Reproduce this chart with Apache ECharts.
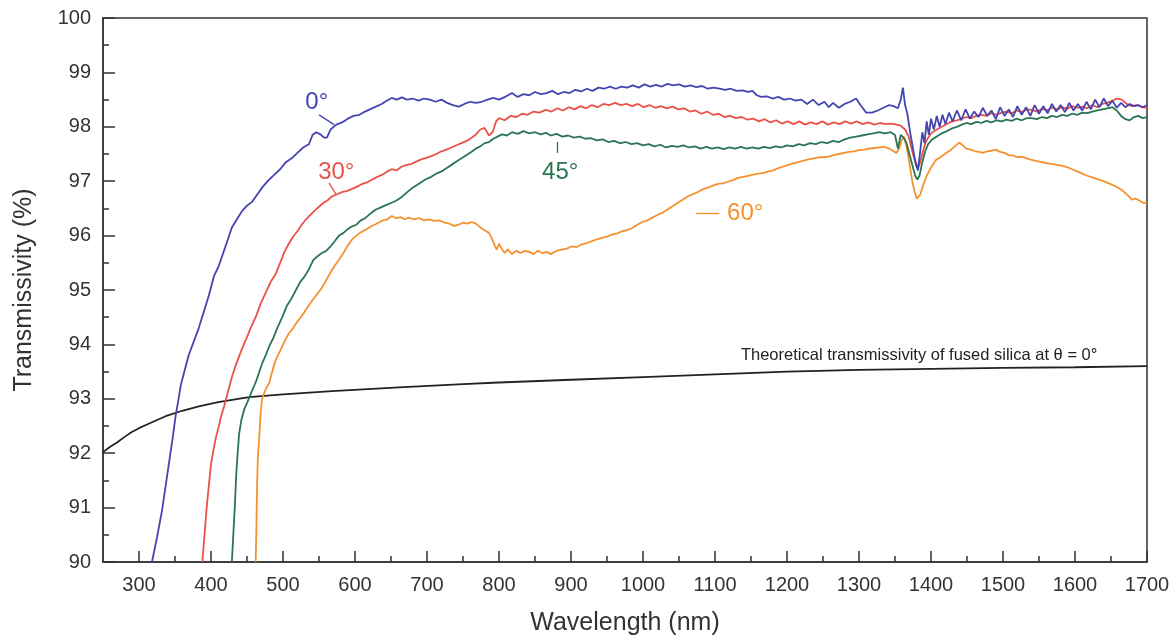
<!DOCTYPE html>
<html>
<head>
<meta charset="utf-8">
<script src="https://cdn.jsdelivr.net/npm/echarts@6/dist/echarts.min.js"></script>
<style>html,body{margin:0;padding:0;background:#fff}#c{width:1176px;height:641px}</style>
</head>
<body>
<div id="c"></div>
<script>
// ---------- data ----------
const xMajorTicks = [300,400,500,600,700,800,900,1000,1100,1200,1300,1400,1500,1600,1700];
const xMinorTicks = [350,450,550,650,750,850,950,1050,1150,1250,1350,1450,1550,1650];
const seriesNames = ['0°','30°','45°','60°'];

const theory = [[250,92.02],[260,92.12],[270,92.2],[280,92.3],[290,92.39],[300,92.46],[315,92.55],[337,92.68],[360,92.78],[383,92.86],[410,92.94],[453,93.03],[500,93.08],[568,93.14],[661,93.21],[750,93.27],[800,93.3],[900,93.35],[1000,93.4],[1100,93.45],[1200,93.5],[1300,93.53],[1400,93.55],[1500,93.57],[1600,93.58],[1700,93.6]];

const t0 = [[318,90.0],[325,90.45],[332,90.95],[337,91.4],[342,91.85],[347,92.3],[351,92.7],[355,93.0],[358,93.25],[363,93.5],[369,93.8],[376,94.05],[383,94.3],[390,94.6],[397,94.9],[404,95.25],[411,95.45],[418,95.72],[424,95.95],[429,96.15],[436,96.3],[443,96.45],[450,96.55],[457,96.62],[464,96.75],[472,96.9],[480,97.02],[488,97.12],[496,97.22],[504,97.35],[512,97.42],[520,97.52],[528,97.62],[536,97.68],[541,97.85],[546,97.9],[552,97.86],[557,97.8],[561,97.8],[566,97.95],[574,98.04],[582,98.08],[590,98.15],[598,98.2],[606,98.22],[614,98.28],[622,98.33],[629,98.37],[637,98.42],[644,98.48],[651,98.53],[658,98.5],[665,98.54],[672,98.5],[680,98.52],[688,98.48],[696,98.52],[704,98.5],[712,98.46],[720,98.5],[728,98.44],[736,98.4],[744,98.37],[752,98.42],[760,98.46],[768,98.44],[776,98.46],[784,98.5],[792,98.53],[800,98.5],[810,98.56],[818,98.62],[826,98.55],[834,98.6],[842,98.58],[850,98.64],[858,98.6],[866,98.62],[874,98.66],[882,98.6],[890,98.64],[898,98.62],[906,98.68],[914,98.65],[922,98.7],[930,98.66],[938,98.72],[946,98.7],[954,98.74],[962,98.7],[970,98.74],[978,98.72],[986,98.76],[994,98.72],[1002,98.78],[1010,98.74],[1018,98.77],[1026,98.74],[1034,98.79],[1042,98.76],[1050,98.78],[1058,98.74],[1066,98.76],[1074,98.73],[1082,98.75],[1090,98.7],[1098,98.72],[1106,98.7],[1114,98.68],[1122,98.7],[1130,98.66],[1138,98.67],[1146,98.64],[1152,98.66],[1158,98.58],[1164,98.55],[1172,98.56],[1180,98.52],[1188,98.55],[1196,98.5],[1204,98.52],[1212,98.48],[1220,98.5],[1228,98.42],[1236,98.5],[1244,98.4],[1252,98.46],[1258,98.36],[1264,98.44],[1272,98.35],[1280,98.42],[1288,98.46],[1296,98.52],[1302,98.4],[1310,98.26],[1318,98.26],[1326,98.3],[1334,98.35],[1342,98.4],[1348,98.38],[1354,98.34],[1358,98.5],[1361,98.72],[1364,98.4],[1367,98.25],[1371,97.9],[1375,97.6],[1379,97.3],[1382,97.2],[1385,97.55],[1388,97.9],[1391,97.7],[1394,98.1],[1397,97.85],[1400,98.15],[1404,97.95],[1408,98.2],[1412,98.0],[1416,98.22],[1420,98.05],[1425,98.26],[1430,98.1],[1436,98.3],[1442,98.12],[1448,98.32],[1454,98.15],[1460,98.28],[1466,98.18],[1472,98.35],[1478,98.2],[1484,98.3],[1490,98.14],[1496,98.36],[1502,98.2],[1508,98.32],[1514,98.18],[1520,98.38],[1526,98.22],[1532,98.36],[1538,98.2],[1544,98.4],[1550,98.24],[1556,98.38],[1562,98.25],[1568,98.42],[1574,98.28],[1580,98.4],[1586,98.27],[1592,98.44],[1598,98.3],[1604,98.42],[1610,98.3],[1616,98.46],[1622,98.32],[1628,98.5],[1634,98.36],[1640,98.52],[1646,98.38],[1652,98.48],[1658,98.35],[1664,98.44],[1670,98.36],[1676,98.42],[1682,98.38],[1688,98.4],[1694,98.36],[1700,98.4]];

const t30 = [[388,90.0],[391,90.5],[394,91.0],[397,91.4],[400,91.8],[404,92.1],[407,92.3],[411,92.5],[414,92.68],[418,92.85],[421,93.0],[425,93.2],[429,93.4],[434,93.6],[439,93.78],[444,93.95],[449,94.1],[455,94.3],[462,94.5],[469,94.75],[476,94.95],[483,95.15],[490,95.3],[496,95.5],[502,95.7],[508,95.85],[514,95.98],[520,96.08],[526,96.2],[532,96.3],[538,96.38],[544,96.46],[550,96.53],[556,96.6],[562,96.65],[568,96.72],[575,96.76],[582,96.8],[589,96.82],[596,96.86],[603,96.9],[610,96.95],[617,96.98],[624,97.03],[631,97.08],[638,97.12],[645,97.18],[651,97.22],[658,97.2],[665,97.27],[672,97.3],[679,97.32],[685,97.36],[692,97.4],[699,97.43],[706,97.46],[713,97.5],[720,97.55],[727,97.58],[734,97.62],[741,97.66],[748,97.7],[755,97.74],[762,97.8],[768,97.86],[774,97.95],[780,97.98],[786,97.84],[791,97.9],[796,98.1],[800,98.16],[808,98.12],[816,98.2],[824,98.18],[832,98.24],[840,98.22],[848,98.28],[856,98.26],[865,98.31],[873,98.28],[881,98.34],[889,98.3],[897,98.36],[905,98.32],[913,98.38],[921,98.34],[929,98.4],[937,98.36],[945,98.42],[953,98.4],[961,98.44],[969,98.4],[977,98.42],[985,98.38],[993,98.42],[1001,98.36],[1009,98.4],[1017,98.35],[1025,98.38],[1033,98.34],[1041,98.37],[1049,98.32],[1057,98.34],[1065,98.28],[1073,98.3],[1081,98.24],[1089,98.28],[1097,98.22],[1105,98.24],[1113,98.18],[1121,98.2],[1129,98.16],[1137,98.18],[1145,98.13],[1153,98.15],[1161,98.1],[1169,98.14],[1177,98.08],[1185,98.12],[1193,98.06],[1201,98.1],[1209,98.05],[1217,98.1],[1225,98.04],[1233,98.08],[1241,98.05],[1249,98.1],[1257,98.04],[1265,98.08],[1273,98.05],[1281,98.1],[1289,98.06],[1297,98.1],[1305,98.05],[1313,98.08],[1321,98.04],[1329,98.07],[1337,98.05],[1345,98.06],[1352,98.04],[1358,98.02],[1364,97.95],[1369,97.82],[1373,97.6],[1377,97.4],[1381,97.28],[1384,97.3],[1388,97.5],[1392,97.7],[1396,97.8],[1401,97.89],[1408,97.95],[1415,98.0],[1422,98.05],[1429,98.1],[1436,98.12],[1443,98.15],[1449,98.18],[1456,98.16],[1463,98.2],[1470,98.22],[1477,98.2],[1484,98.25],[1491,98.22],[1498,98.26],[1505,98.28],[1512,98.25],[1519,98.3],[1526,98.27],[1533,98.32],[1540,98.31],[1547,98.28],[1554,98.33],[1561,98.3],[1568,98.35],[1575,98.32],[1582,98.36],[1589,98.33],[1596,98.38],[1603,98.35],[1610,98.37],[1617,98.34],[1624,98.4],[1631,98.36],[1638,98.42],[1645,98.44],[1652,98.48],[1658,98.52],[1665,98.5],[1672,98.42],[1679,98.38],[1686,98.4],[1693,98.36],[1700,98.35]];

const t45 = [[429,90.0],[431,90.5],[433,91.0],[435,91.6],[437,92.0],[439,92.35],[442,92.6],[446,92.8],[450,92.92],[454,93.05],[458,93.18],[462,93.3],[466,93.45],[471,93.65],[476,93.8],[481,93.97],[486,94.1],[492,94.3],[499,94.5],[505,94.7],[512,94.85],[518,95.0],[524,95.15],[530,95.25],[536,95.38],[542,95.55],[548,95.62],[554,95.68],[560,95.72],[566,95.8],[572,95.9],[578,96.0],[584,96.05],[590,96.12],[596,96.17],[602,96.2],[608,96.28],[614,96.32],[621,96.4],[629,96.48],[636,96.52],[643,96.56],[650,96.6],[657,96.64],[664,96.7],[671,96.78],[678,96.86],[685,96.92],[692,96.98],[699,97.04],[706,97.08],[713,97.14],[720,97.18],[727,97.24],[734,97.3],[741,97.36],[748,97.42],[755,97.48],[762,97.54],[768,97.6],[774,97.64],[780,97.7],[786,97.72],[792,97.78],[798,97.82],[804,97.86],[811,97.84],[818,97.9],[826,97.87],[834,97.92],[842,97.88],[850,97.9],[858,97.86],[865,97.89],[872,97.84],[880,97.87],[888,97.82],[896,97.84],[904,97.8],[912,97.82],[920,97.78],[928,97.79],[936,97.75],[944,97.77],[952,97.72],[960,97.74],[968,97.7],[976,97.72],[984,97.68],[992,97.7],[1000,97.66],[1008,97.68],[1016,97.64],[1024,97.67],[1032,97.62],[1040,97.65],[1048,97.63],[1056,97.66],[1064,97.62],[1072,97.64],[1080,97.6],[1088,97.63],[1096,97.6],[1104,97.62],[1112,97.59],[1120,97.62],[1128,97.6],[1136,97.63],[1144,97.6],[1152,97.62],[1160,97.6],[1168,97.63],[1176,97.61],[1184,97.64],[1192,97.62],[1200,97.66],[1208,97.64],[1216,97.68],[1224,97.66],[1232,97.7],[1240,97.68],[1248,97.72],[1256,97.7],[1264,97.74],[1272,97.72],[1280,97.77],[1288,97.8],[1296,97.82],[1304,97.84],[1312,97.86],[1320,97.88],[1328,97.9],[1336,97.88],[1344,97.9],[1350,97.85],[1354,97.6],[1358,97.85],[1362,97.8],[1366,97.7],[1370,97.5],[1374,97.3],[1378,97.1],[1381,97.03],[1384,97.1],[1388,97.35],[1392,97.55],[1396,97.68],[1401,97.76],[1408,97.82],[1415,97.88],[1422,97.92],[1429,97.97],[1436,98.0],[1443,98.04],[1449,98.07],[1456,98.05],[1463,98.09],[1470,98.07],[1477,98.11],[1484,98.08],[1491,98.12],[1498,98.1],[1505,98.13],[1512,98.11],[1519,98.15],[1526,98.12],[1533,98.16],[1540,98.16],[1547,98.14],[1554,98.18],[1561,98.16],[1568,98.2],[1575,98.18],[1582,98.22],[1589,98.2],[1596,98.24],[1603,98.22],[1610,98.26],[1617,98.25],[1624,98.28],[1631,98.3],[1638,98.32],[1645,98.34],[1652,98.36],[1658,98.3],[1664,98.2],[1670,98.14],[1676,98.12],[1682,98.18],[1688,98.2],[1694,98.16],[1700,98.18]];

const t60 = [[462,90.0],[463,90.6],[464,91.4],[465,91.9],[467,92.3],[469,92.75],[471,93.0],[475,93.15],[481,93.3],[486,93.55],[490,93.72],[496,93.88],[502,94.05],[508,94.2],[514,94.3],[520,94.42],[526,94.52],[532,94.64],[539,94.78],[546,94.9],[553,95.02],[560,95.18],[566,95.32],[572,95.45],[578,95.56],[584,95.68],[590,95.82],[596,95.93],[602,96.0],[608,96.06],[615,96.11],[621,96.16],[627,96.2],[633,96.24],[639,96.28],[645,96.3],[651,96.36],[657,96.32],[663,96.34],[669,96.3],[675,96.33],[681,96.3],[689,96.32],[696,96.28],[703,96.3],[710,96.27],[717,96.28],[724,96.24],[731,96.22],[738,96.18],[744,96.2],[750,96.24],[756,96.22],[762,96.25],[768,96.22],[774,96.15],[780,96.1],[786,96.05],[790,95.95],[794,95.82],[797,95.74],[800,95.85],[804,95.75],[808,95.68],[812,95.75],[818,95.66],[824,95.72],[830,95.68],[836,95.72],[842,95.7],[848,95.66],[854,95.72],[860,95.68],[866,95.7],[872,95.66],[880,95.72],[887,95.74],[894,95.76],[901,95.8],[908,95.79],[915,95.84],[922,95.86],[929,95.9],[936,95.93],[943,95.96],[950,95.98],[957,96.02],[964,96.04],[971,96.08],[978,96.1],[985,96.14],[992,96.2],[999,96.25],[1006,96.28],[1013,96.33],[1020,96.38],[1027,96.42],[1034,96.48],[1041,96.54],[1048,96.6],[1055,96.66],[1062,96.72],[1069,96.76],[1076,96.8],[1083,96.85],[1090,96.88],[1097,96.92],[1104,96.95],[1111,96.96],[1118,96.99],[1125,97.02],[1132,97.06],[1139,97.08],[1146,97.1],[1153,97.12],[1160,97.14],[1167,97.15],[1174,97.18],[1181,97.2],[1188,97.24],[1195,97.27],[1202,97.3],[1209,97.33],[1216,97.35],[1223,97.38],[1230,97.4],[1237,97.42],[1244,97.44],[1251,97.44],[1258,97.45],[1265,97.48],[1272,97.5],[1279,97.52],[1286,97.54],[1293,97.55],[1300,97.57],[1307,97.58],[1314,97.6],[1321,97.61],[1328,97.62],[1335,97.63],[1342,97.6],[1348,97.55],[1352,97.52],[1356,97.6],[1359,97.75],[1362,97.82],[1365,97.7],[1368,97.5],[1371,97.25],[1374,97.0],[1377,96.82],[1380,96.68],[1382,96.66],[1385,96.75],[1389,96.92],[1394,97.1],[1400,97.25],[1407,97.39],[1414,97.45],[1421,97.52],[1428,97.58],[1434,97.65],[1439,97.71],[1444,97.66],[1449,97.6],[1455,97.58],[1461,97.55],[1467,97.54],[1472,97.52],[1478,97.55],[1484,97.56],[1490,97.58],[1496,97.54],[1502,97.52],[1508,97.48],[1514,97.47],[1520,97.44],[1526,97.45],[1533,97.42],[1540,97.39],[1547,97.37],[1554,97.35],[1561,97.33],[1568,97.32],[1575,97.3],[1582,97.28],[1589,97.26],[1596,97.22],[1603,97.18],[1610,97.14],[1617,97.1],[1624,97.07],[1633,97.03],[1640,97.0],[1647,96.96],[1654,96.92],[1660,96.88],[1665,96.84],[1670,96.78],[1675,96.72],[1679,96.66],[1684,96.68],[1690,96.64],[1695,96.6],[1700,96.6]];

// annotation anchors (data coordinates)
const labelAt = [[547,98.44],[574,97.17],[885,97.17],[1142,96.40]];
const leaders = [[[550,98.22],[571,98.04]],[[564,96.97],[574,96.75]],[[881,97.72],[881,97.52]],[[1074,96.42],[1106,96.42]]];
const theoryText = 'Theoretical transmissivity of fused silica at θ = 0°';
const theoryAt = [1136,93.80];

// ---------- chart ----------
const colors = ['#4444b2','#ea5248','#2a7552','#f5922f'];
const FONT = '"Liberation Sans", Arial, Helvetica, sans-serif';
const chart = echarts.init(document.getElementById('c'), null, {renderer:'canvas'});

const lineSeries = (name, data, color, z) => ({
  name, type:'line', data, showSymbol:false, symbol:'none', z,
  lineStyle:{color, width:1.8}, itemStyle:{color}, animation:false
});

chart.setOption({
  animation:false,
  textStyle:{fontFamily:FONT},
  grid:{left:103, right:29, top:18, bottom:78, show:true, borderColor:'#333', borderWidth:1.5},
  xAxis:[{
    type:'value', min:250, max:1700,
    name:'Wavelength (nm)', nameLocation:'middle', nameGap:49,
    nameTextStyle:{fontSize:25, color:'#333', fontFamily:FONT},
    axisLine:{show:true, lineStyle:{color:'#333', width:1.5}},
    axisTick:{show:true, inside:true, length:11, customValues:xMajorTicks, lineStyle:{color:'#333', width:1.5}},
    axisLabel:{customValues:xMajorTicks, formatter:v=>String(v), fontSize:20, color:'#333', margin:13, fontFamily:FONT},
    splitLine:{show:false}
  },{
    type:'value', min:250, max:1700, position:'bottom', offset:0,
    axisLine:{show:false},
    axisTick:{show:true, inside:true, length:6, customValues:xMinorTicks, lineStyle:{color:'#333', width:1.5}},
    axisLabel:{show:false},
    splitLine:{show:false}
  }],
  yAxis:{
    type:'value', min:90, max:100, interval:1,
    name:'Transmissivity (%)', nameLocation:'middle', nameGap:66, nameRotate:90,
    nameTextStyle:{fontSize:25, color:'#333', fontFamily:FONT},
    axisLine:{show:true, lineStyle:{color:'#333', width:1.5}},
    axisTick:{show:true, inside:true, length:12, lineStyle:{color:'#333', width:1.5}},
    minorTick:{show:true, splitNumber:2, length:6, lineStyle:{color:'#333', width:1.5}},
    axisLabel:{fontSize:20, color:'#333', margin:12, fontFamily:FONT},
    splitLine:{show:false}
  },
  series:[
    lineSeries('theory', theory, '#222', 2),
    lineSeries(seriesNames[3], t60, colors[3], 3),
    lineSeries(seriesNames[2], t45, colors[2], 4),
    lineSeries(seriesNames[1], t30, colors[1], 5),
    lineSeries(seriesNames[0], t0, colors[0], 6),
    {
      type:'scatter', name:'labels', symbolSize:0, z:10, silent:true,
      itemStyle:{opacity:1},
      data: seriesNames.map((n,i)=>({
        value: labelAt[i], name:n,
        label:{show:true, formatter:n, position:'inside', fontSize:24, color:colors[i], opacity:1, fontFamily:FONT}
      })).concat([{
        value: theoryAt, name:'theory',
        label:{show:true, formatter:theoryText, position:'right', distance:0, fontSize:16.5, color:'#222', opacity:1, fontFamily:FONT}
      }]),
      markLine:{
        silent:true, symbol:['none','none'], label:{show:false}, animation:false,
        data: leaders.map((l,i)=>[
          {coord:l[0], lineStyle:{color:colors[i], width:1.3, type:'solid', opacity:1}},
          {coord:l[1]}
        ])
      }
    }
  ]
});
</script>
</body>
</html>
